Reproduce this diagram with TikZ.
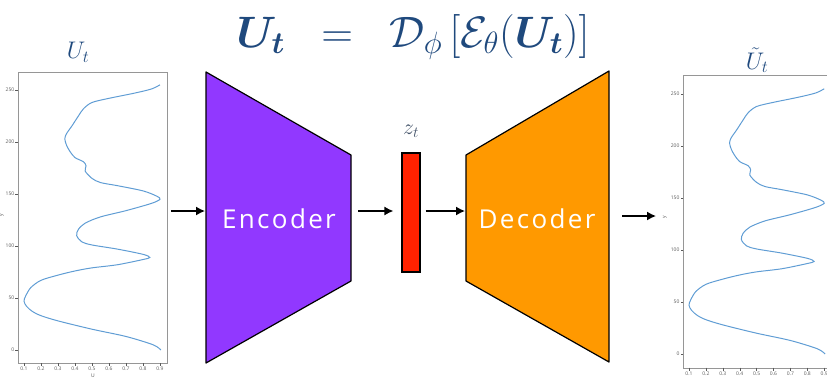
\RequirePackage{fix-cm}
\documentclass[tikz,border=0pt]{standalone}
\usepackage{amsmath}
\usepackage{bm}
\usepackage{fontspec}
\setsansfont{Open Sans}
\usetikzlibrary{arrows.meta,positioning}
\definecolor{titleblue}{RGB}{31,73,125}
\definecolor{labelgray}{RGB}{68,84,106}
\definecolor{encpurple}{RGB}{145,56,255}
\definecolor{decorange}{RGB}{255,153,0}
\definecolor{latentred}{RGB}{255,34,0}
\definecolor{curveblue}{RGB}{96,157,212}
\definecolor{spinegray}{RGB}{150,150,150}
\definecolor{tickgray}{RGB}{90,90,90}

\begin{document}
\begin{tikzpicture}[x=1pt, y=1pt,
    axbox/.style={draw=spinegray, line width=0.9pt, inner sep=0pt, anchor=north west},
    ticklabel/.style={font=\sffamily\fontsize{5}{6}\selectfont, text=tickgray, inner sep=1pt},
    profile/.style={curveblue, line width=1pt, smooth, tension=0.5},
    block/.style={draw=black, line width=1.2pt, line join=round},
    blocktext/.style={font=\sffamily\addfontfeature{LetterSpace=9}\fontsize{26}{30}\selectfont, text=white},
    flow/.style={-{Latex[length=9pt, width=9pt]}, line width=1.4pt}
]
\useasboundingbox (0,0) rectangle (827,-381);

% title formula
\node[text=titleblue, font=\fontsize{44}{48}\selectfont] (eq) at (413,-37)
  {$\bm{U}_{\bm{t}}\;\;=\;\;\mathcal{D}_\phi\,[\mathcal{E}_\theta(\bm{U}_{\bm{t}})]$};

% input profile
\node[axbox, minimum width=149, minimum height=291] (uin) at (18,-72) {};
\node[text=titleblue, font=\fontsize{24}{26}\selectfont] (uintitle) at (78,-52) {$U_t$};
\begin{scope}[shift={(7,-350)}, x=170pt, y=1.04pt]
  \foreach \v in {0,50,...,250}
    \draw[tickgray, line width=0.4pt] (0.0647,\v) -- (0.0647-0.015,\v) node[ticklabel, left] {\v};
  \foreach \u in {0.1,0.2,0.3,0.4,0.5,0.6,0.7,0.8,0.9}
    \draw[tickgray, line width=0.4pt] (\u,-12.5) -- (\u,-15.5) node[ticklabel, below] {\u};
  \draw[profile] plot coordinates {(0.905,0) (0.86,5) (0.7,13) (0.5,20) (0.3,28) (0.2,33) (0.15,37) (0.115,42) (0.1,47) (0.11,52) (0.14,60) (0.2,67) (0.3,72) (0.4,76) (0.5,79) (0.65,82) (0.8,87) (0.84,89) (0.8,92) (0.65,97) (0.5,101) (0.44,104) (0.41,110) (0.42,116) (0.46,122) (0.55,128) (0.7,134) (0.85,141) (0.9,145) (0.88,148) (0.8,153) (0.65,158) (0.55,161) (0.5,165) (0.46,172) (0.465,177) (0.45,181) (0.4,185) (0.37,191) (0.35,197) (0.34,203) (0.35,208) (0.38,215) (0.42,225) (0.45,232) (0.5,238) (0.6,242) (0.75,247) (0.85,251) (0.9,255)};
\end{scope}
\node[ticklabel] (uinx) at (93,-376) {U};
\node[ticklabel, rotate=90] (uiny) at (2,-215) {y};

% encoder
\draw[block, fill=encpurple] (206,-72) -- (351,-155) -- (351,-281) -- (206,-363) -- cycle;
\node[blocktext] (enc) at (279,-219) {Encoder};
\coordinate (encin) at (205,-211);
\coordinate (encout) at (358,-211);

% latent
\node[draw=black, line width=1.2pt, fill=latentred, minimum width=18, minimum height=119, inner sep=0pt] (zt) at (411,-212.5) {};
\node[text=labelgray, font=\fontsize{22}{24}\selectfont] (zlabel) at (411,-131) {$z_t$};

% decoder
\draw[block, fill=decorange] (466,-155) -- (609,-71) -- (609,-362) -- (466,-281) -- cycle;
\node[blocktext] (dec) at (537,-219) {Decoder};
\coordinate (decin) at (465,-211);
\coordinate (decout) at (622,-216);

% reconstructed profile
\node[axbox, minimum width=160, minimum height=293] (uout) at (683,-75) {};
\node[text=titleblue, font=\fontsize{24}{26}\selectfont] (uouttitle) at (757,-60) {$\tilde{U}_t$};
\begin{scope}[shift={(672.1,-354)}, x=169pt, y=1.04pt]
  \foreach \v in {0,50,...,250}
    \draw[tickgray, line width=0.4pt] (0.065,\v) -- (0.065-0.015,\v) node[ticklabel, left] {\v};
  \foreach \u in {0.1,0.2,0.3,0.4,0.5,0.6,0.7,0.8,0.9}
    \draw[tickgray, line width=0.4pt] (\u,-13) -- (\u,-16) node[ticklabel, below] {\u};
  \draw[profile] plot coordinates {(0.905,0) (0.86,5) (0.7,13) (0.5,20) (0.3,28) (0.2,33) (0.15,37) (0.115,42) (0.1,47) (0.11,52) (0.14,60) (0.2,67) (0.3,72) (0.4,76) (0.5,79) (0.65,82) (0.8,87) (0.84,89) (0.8,92) (0.65,97) (0.5,101) (0.44,104) (0.41,110) (0.42,116) (0.46,122) (0.55,128) (0.7,134) (0.85,141) (0.9,145) (0.88,148) (0.8,153) (0.65,158) (0.55,161) (0.5,165) (0.46,172) (0.465,177) (0.45,181) (0.4,185) (0.37,191) (0.35,197) (0.34,203) (0.35,208) (0.38,215) (0.42,225) (0.45,232) (0.5,238) (0.6,242) (0.75,247) (0.85,251) (0.9,255)};
\end{scope}
\node[ticklabel, rotate=90] (uouty) at (665,-217) {y};

% arrows
\draw[flow] ([xshift=3pt]uin.east |- encin) -- (encin);
\draw[flow] (encout) -- ([xshift=-8pt]zt.west |- encout);
\draw[flow] ([xshift=5pt]zt.east |- decin) -- (decin);
\draw[flow] (decout) -- ([xshift=-27pt]uout.west |- decout);
\end{tikzpicture}
\end{document}
